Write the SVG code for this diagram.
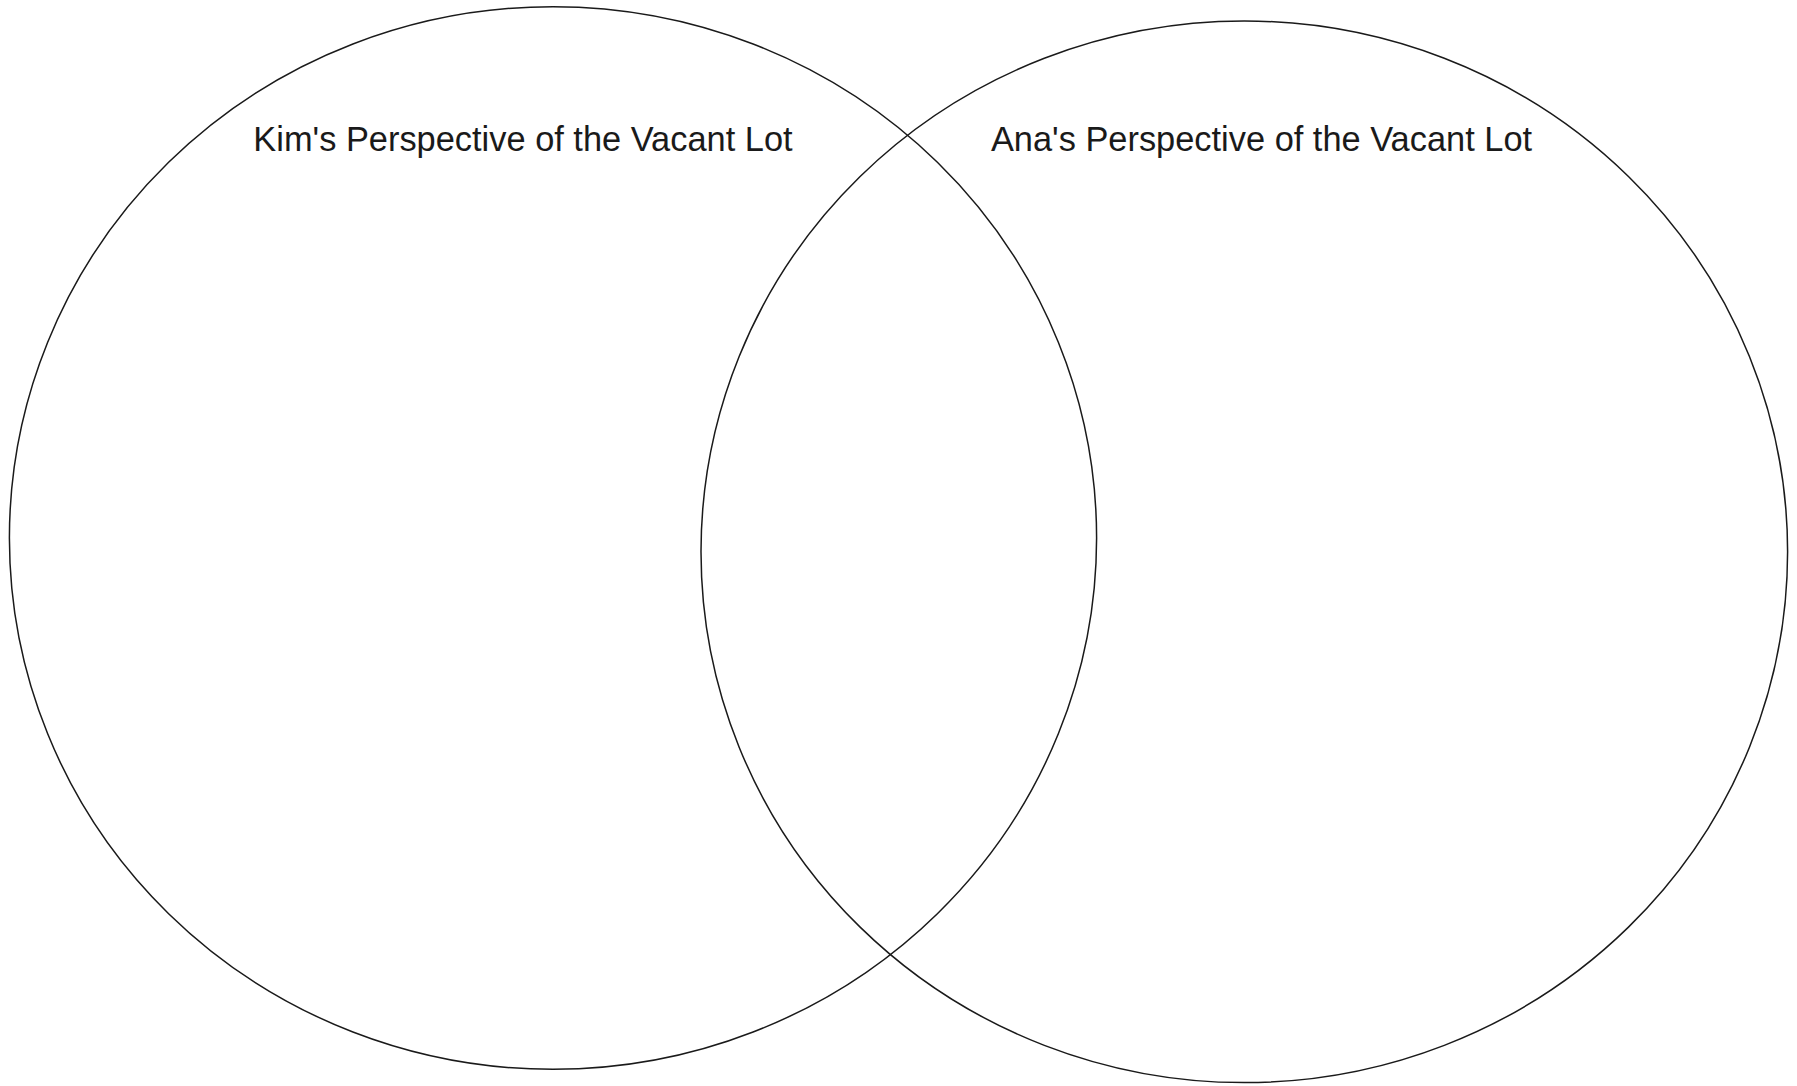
<svg xmlns="http://www.w3.org/2000/svg" width="1797" height="1086" viewBox="0 0 1797 1086">
<style>
.c{fill:none;stroke:#1a1a1a;stroke-width:1.5}
.t{font-family:"Liberation Sans",Arial,sans-serif;font-size:34.4px;fill:#1a1a1a;text-anchor:middle}
</style>
<rect width="1797" height="1086" fill="#fff"/>
<g id="kim">
<ellipse class="c" cx="553" cy="538" rx="543.6" ry="531.3"/>
<text class="t" x="523" y="150.5">Kim's Perspective of the Vacant Lot</text>
</g>
<g id="ana">
<ellipse class="c" cx="1244.3" cy="551.8" rx="543.3" ry="530.8"/>
<text class="t" x="1261.5" y="150.5">Ana's Perspective of the Vacant Lot</text>
</g>
<g id="connectors"/>
</svg>
